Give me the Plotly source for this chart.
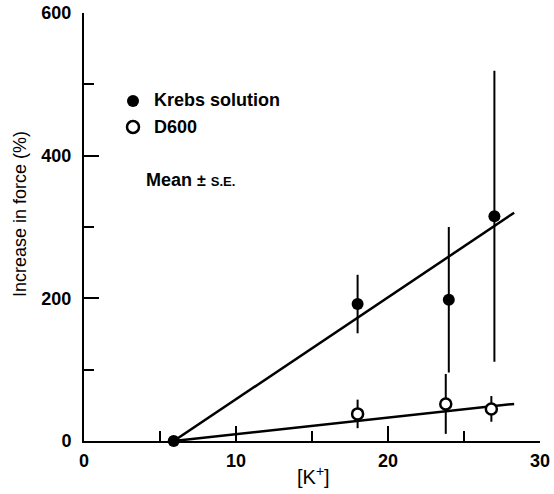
import plotly.graph_objects as go

# Data
krebs_x = [5.9, 18, 24, 27]
krebs_y = [0, 192, 198, 315]
krebs_se = [0, 41, 102, 204]

d600_x = [5.9, 18, 23.8, 26.8]
d600_y = [-5, 38, 52, 45]
d600_se = [0, 20, 42, 18]

fit_x = [5.9, 28.3]
krebs_fit = [0, 320]
d600_fit = [0, 52]

x_ticks = [0, 10, 20, 30]
x_minor = [5, 15, 25]
y_ticks = [0, 200, 400, 600]
y_minor = [100, 300, 500]

FONT = "Liberation Sans, Arial, Helvetica, sans-serif"

fig = go.Figure()

fig.add_trace(go.Scatter(x=fit_x, y=krebs_fit, mode="lines",
                         line=dict(color="black", width=2.5), showlegend=False, cliponaxis=False))
fig.add_trace(go.Scatter(x=fit_x, y=d600_fit, mode="lines",
                         line=dict(color="black", width=2.5), showlegend=False, cliponaxis=False))

fig.add_trace(go.Scatter(x=krebs_x, y=krebs_y, mode="markers",
                         marker=dict(color="black", size=12, symbol="circle"),
                         error_y=dict(type="data", array=krebs_se, color="black", thickness=2, width=0),
                         showlegend=False, cliponaxis=False))
fig.add_trace(go.Scatter(x=d600_x, y=d600_y, mode="markers",
                         marker=dict(color="white", size=11, symbol="circle",
                                     line=dict(color="black", width=2.5)),
                         error_y=dict(type="data", array=d600_se, color="black", thickness=2, width=0),
                         showlegend=False, cliponaxis=False))

W, H = 554, 494
ml, mr, mt, mb = 84, 14, 13, 53
pw, ph = W - ml - mr, H - mt - mb

def px2paper(px, py):
    return (px - ml) / pw, (H - mb - py) / ph

# legend symbols as shapes
for (cx, cy, fill) in [(133, 101, "black"), (133, 127, "white")]:
    x0, y0 = px2paper(cx - 6, cy + 6)
    x1, y1 = px2paper(cx + 6, cy - 6)
    fig.add_shape(type="circle", xref="paper", yref="paper", x0=x0, y0=y0, x1=x1, y1=y1,
                  fillcolor=fill, line=dict(color="black", width=2.5 if fill == "white" else 0))

notes = [
    (152, 100, "Krebs solution", 18, "left", 0, "bold"),
    (152, 127, "D600", 18, "left", 0, "bold"),
    (144, 180, "Mean <span style='font-size:16px'>±</span> <span style='font-size:13px'>S.E.</span>", 18, "left", 0, "bold"),
    (313, 475, "[K<sup>+</sup>]", 20, "center", 0, "normal"),
    (20, 214, "Increase in force (%)", 18, "center", -90, "normal"),
]
for (tx, ty, txt, fs, xa, rot, wt) in notes:
    ax, ay = px2paper(tx, ty)
    fig.add_annotation(x=ax, y=ay, xref="paper", yref="paper", text=txt, showarrow=False,
                       xanchor=xa, yanchor="middle", textangle=rot,
                       font=dict(size=fs, color="black", family=FONT, weight=wt))

fig.update_layout(
    width=W, height=H,
    margin=dict(l=ml, r=mr, t=mt, b=mb),
    paper_bgcolor="white", plot_bgcolor="white",
    font=dict(family=FONT, color="black", size=18),
    showlegend=False,
)
fig.update_xaxes(range=[0, 30], tickvals=x_ticks, ticks="inside", ticklen=15, tickwidth=2,
                 tickcolor="black", showline=True, linecolor="black", linewidth=2,
                 showgrid=False, zeroline=False, automargin=False,
                 minor=dict(tickvals=x_minor, ticks="inside", ticklen=10, tickwidth=2, tickcolor="black"),
                 tickfont=dict(size=18, weight="bold"), ticklabelstandoff=2)
fig.update_yaxes(range=[0, 600], tickvals=y_ticks, ticks="inside", ticklen=15, tickwidth=2,
                 tickcolor="black", showline=True, linecolor="black", linewidth=2,
                 showgrid=False, zeroline=False, automargin=False,
                 minor=dict(tickvals=y_minor, ticks="inside", ticklen=10, tickwidth=2, tickcolor="black"),
                 tickfont=dict(size=18, weight="bold"), ticklabelstandoff=7)

fig.write_html("out.html", config={"displayModeBar": False},
               post_script="document.body.style.margin='0';document.body.style.overflow='hidden';")
